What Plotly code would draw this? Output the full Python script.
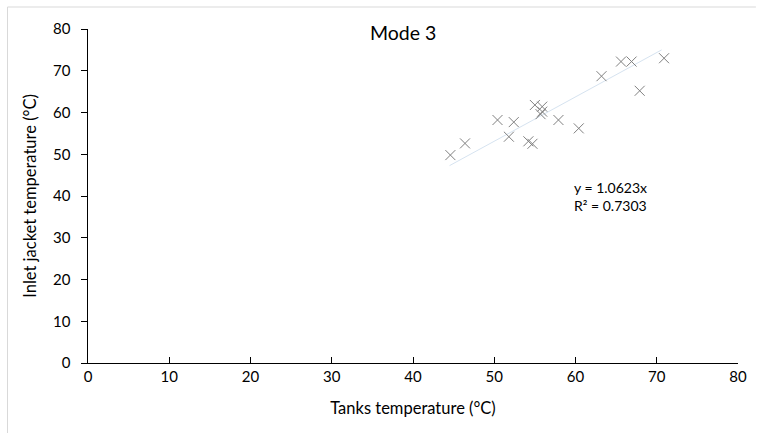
import plotly.graph_objects as go

tank_temp = [44.6, 46.4, 50.4, 52.4, 51.8, 54.2, 54.7, 55.0, 55.9, 55.9, 55.7, 57.9, 60.4, 63.2, 65.6, 66.9, 67.9, 70.9]
inlet_temp = [49.8, 52.6, 58.2, 57.7, 54.2, 53.1, 52.5, 61.8, 61.4, 60.2, 59.6, 58.2, 56.2, 68.7, 72.2, 72.2, 65.2, 73.0]
slope = 1.0623
r2 = 0.7303
trend_x = [44.5, 70.6]
trend_y = [slope * v for v in trend_x]

xticks = [0, 10, 20, 30, 40, 50, 60, 70, 80]
yticks = [0, 10, 20, 30, 40, 50, 60, 70, 80]
xticktext = [str(v) for v in xticks]
yticktext = [str(v) + "\u2002" for v in yticks]

FONT = "Lato, 'Open Sans', sans-serif"

fig = go.Figure()
fig.add_trace(go.Scatter(x=trend_x, y=trend_y, mode="lines",
                         line=dict(color="#d6e3f0", width=1), hoverinfo="skip", showlegend=False))
fig.add_trace(go.Scatter(x=tank_temp, y=inlet_temp, mode="markers",
                         marker=dict(symbol="x-thin", size=10, line=dict(color="#808080", width=1)),
                         showlegend=False))

L, R, T, B = 88, 17, 29, 77
H = 440 - T - B
W = 759 - L - R

fig.update_layout(
    width=759, height=440,
    margin=dict(l=L, r=R, t=T, b=B),
    paper_bgcolor="white", plot_bgcolor="white",
    font=dict(family=FONT, size=15, color="#000000"),
    xaxis=dict(range=[0, 80], tickvals=xticks, ticktext=xticktext, showgrid=False, zeroline=False,
               showline=True, linecolor="black", linewidth=1,
               ticks="inside", ticklen=6, tickcolor="black",
               title=dict(text="Tanks temperature (°C)", standoff=18, font=dict(size=16.5))),
    yaxis=dict(range=[0, 80], tickvals=yticks, ticktext=yticktext, showgrid=False, zeroline=False,
               showline=True, linecolor="black", linewidth=1,
               ticks="outside", ticklen=6, tickcolor="black",
               title=dict(text="Inlet jacket temperature (°C)", standoff=12, font=dict(size=16.5))),
    annotations=[
        dict(text="Mode 3", xref="paper", yref="paper", x=(405 - L) / W, y=(T + H - 32) / H,
             xanchor="center", yanchor="middle", showarrow=False, font=dict(size=19.5)),
        dict(text=f"y = {slope}x<br>R² = {r2}", xref="x", yref="y", x=59.6, y=39.9,
             xanchor="left", yanchor="middle", align="left", showarrow=False, font=dict(size=14)),
    ],
    shapes=[
        dict(type="line", xref="paper", yref="paper", x0=(7 - L) / W, x1=(7 - L) / W,
             y0=(T + H - 7) / H, y1=(T + H - 433) / H, line=dict(color="#d9d9d9", width=1)),
        dict(type="line", xref="paper", yref="paper", x0=(7 - L) / W, x1=(760 - L) / W,
             y0=(T + H - 7) / H, y1=(T + H - 7) / H, line=dict(color="#d9d9d9", width=1)),
    ],
)

fig.write_html("out.html")
